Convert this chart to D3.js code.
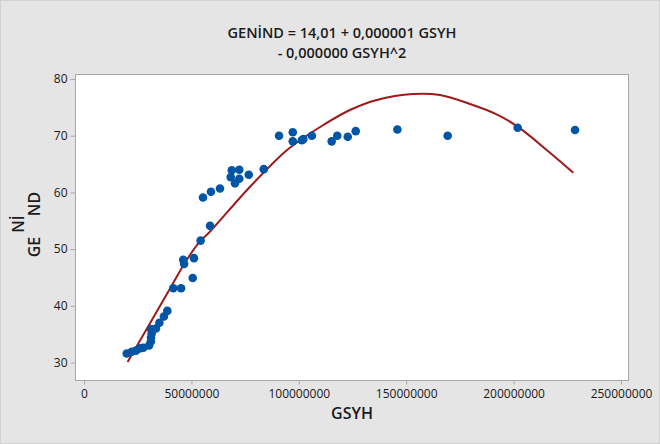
<!doctype html>
<html lang="tr">
<head>
  <meta charset="utf-8">
  <title>GENİND vs GSYH</title>
  <style>
    body { margin: 0; background: #e5e5e5; }
    svg { display: block; font-family: "Open Sans", "Noto Sans", sans-serif; }
  </style>
</head>
<body>
  <div id="chart"></div>
  <script src="https://d3js.org/d3.v7.min.js"></script>
  <script>
    // Data -------------------------------------------------------------------
    const gsyh = [
      19.9, 22.2, 24.2, 26.1, 27.6, 30.3, 31.1, 31.2, 31.5, 31.2, 33.5, 35.1,
      37.2, 38.8, 41.6, 45.2, 46.2, 46.6, 50.6, 51.2, 54.3, 58.7, 55.4, 59.1,
      63.3, 68.8, 72.3, 68.3, 72.3, 70.3, 76.7, 83.7, 90.8, 97.2, 97.2, 101.4,
      102.1, 106.1, 115.3, 117.9, 122.8, 126.5, 145.9, 169.3, 201.9, 228.6
    ].map(d => d * 1e6);
    const genind = [
      31.6, 31.9, 32.1, 32.5, 32.6, 33.0, 33.7, 34.4, 35.1, 35.9, 36.0, 37.0,
      38.1, 39.1, 43.1, 43.1, 48.1, 47.4, 44.9, 48.4, 51.5, 54.1, 59.1, 60.1,
      60.7, 63.9, 64.0, 62.7, 62.4, 61.6, 63.1, 64.1, 70.0, 70.6, 69.0, 69.2,
      69.4, 70.0, 69.0, 70.0, 69.8, 70.8, 71.1, 70.0, 71.4, 71.0
    ];

    // fitted curve
    const fitX = [
      20.3, 40.0, 47.8, 54.3, 57.9, 77.3, 93.6, 101.4, 111.4, 123.8,
      136.3, 153.3, 165.7, 179.7, 192.1, 201.9, 215.4, 227.8
    ].map(d => d * 1e6);
    const fitY = [
      30.09, 43.0, 48.08, 51.48, 52.79, 61.0, 67.18, 69.42, 71.89, 74.53,
      76.30, 77.35, 77.18, 75.59, 73.77, 71.59, 67.48, 63.47
    ];

    const xTicks = [0, 50000000, 100000000, 150000000, 200000000, 250000000];
    const yTicks = [30, 40, 50, 60, 70, 80];
    const titleLines = ["GENİND = 14,01 + 0,000001 GSYH", "- 0,000000 GSYH^2"];

    // Layout ------------------------------------------------------------------
    const width = 660;
    const height = 444;
    const frame = { left: 75, top: 74, right: 628, bottom: 380 };

    const svg = d3.select("#chart")
      .append("svg")
      .attr("width", width)
      .attr("height", height);

    svg.append("rect")
      .attr("x", 0.5).attr("y", 0.5)
      .attr("width", width - 1).attr("height", height - 1)
      .attr("fill", "#e5e5e5")
      .attr("stroke", "#d2d2d2");

    const x = d3.scaleLinear().domain([0, 250000000]).range([84, 621]);
    const y = d3.scaleLinear().domain([30, 80]).range([362.5, 79]);

    svg.append("rect")
      .attr("x", frame.left + 0.5)
      .attr("y", frame.top + 0.5)
      .attr("width", frame.right - frame.left)
      .attr("height", frame.bottom - frame.top)
      .attr("fill", "#ffffff")
      .attr("stroke", "#a8a8a8");

    // Axes --------------------------------------------------------------------
    const yAxis = svg.append("g")
      .attr("transform", `translate(${frame.left + 0.5},0)`)
      .call(d3.axisLeft(y).tickValues(yTicks).tickSize(5).tickPadding(3));

    const xAxis = svg.append("g")
      .attr("transform", `translate(0,${frame.bottom + 0.5})`)
      .call(d3.axisBottom(x).tickValues(xTicks).tickSize(4).tickPadding(5)
        .tickFormat(d3.format("d")));

    [yAxis, xAxis].forEach(g => {
      g.select(".domain").remove();
      g.selectAll(".tick line").attr("stroke", "#a8a8a8");
      g.selectAll(".tick text")
        .attr("fill", "#1a1a1a")
        .style("font-size", "12px")
        .style("font-family", "'Open Sans', sans-serif");
    });

    // Fitted line -------------------------------------------------------------
    const line = d3.line()
      .x((d, i) => x(fitX[i]))
      .y(d => y(d))
      .curve(d3.curveCatmullRom);

    svg.append("path")
      .datum(fitY)
      .attr("d", line)
      .attr("fill", "none")
      .attr("stroke", "#9c1a1a")
      .attr("stroke-width", 2);

    // Points ------------------------------------------------------------------
    svg.append("g")
      .selectAll("circle")
      .data(genind)
      .join("circle")
      .attr("cx", (d, i) => x(gsyh[i]))
      .attr("cy", d => y(d))
      .attr("r", 4.3)
      .attr("fill", "#0056a4");

    // Titles ------------------------------------------------------------------
    svg.append("g")
      .selectAll("text")
      .data(titleLines)
      .join("text")
      .attr("x", 342)
      .attr("y", (d, i) => 38 + i * 20)
      .attr("text-anchor", "middle")
      .attr("fill", "#1a1a1a")
      .style("font-size", "14.5px")
      .style("font-weight", 600)
      .text(d => d);

    svg.append("text")
      .attr("x", 352)
      .attr("y", 419)
      .attr("text-anchor", "middle")
      .attr("fill", "#1a1a1a")
      .style("font-size", "16px")
      .style("font-weight", 600)
      .text("GSYH");

    // y label, drawn the way the reference shows it
    const yLabel = [
      { t: "GE", x: 40, y: 247 },
      { t: "ND", x: 40, y: 204 },
      { t: "Nİ", x: 24, y: 224 }
    ];
    svg.append("g")
      .selectAll("text")
      .data(yLabel)
      .join("text")
      .attr("transform", d => `translate(${d.x},${d.y}) rotate(-90)`)
      .attr("text-anchor", "middle")
      .attr("fill", "#1a1a1a")
      .style("font-size", "16px")
      .style("font-weight", 600)
      .text(d => d.t);
  </script>
</body>
</html>
